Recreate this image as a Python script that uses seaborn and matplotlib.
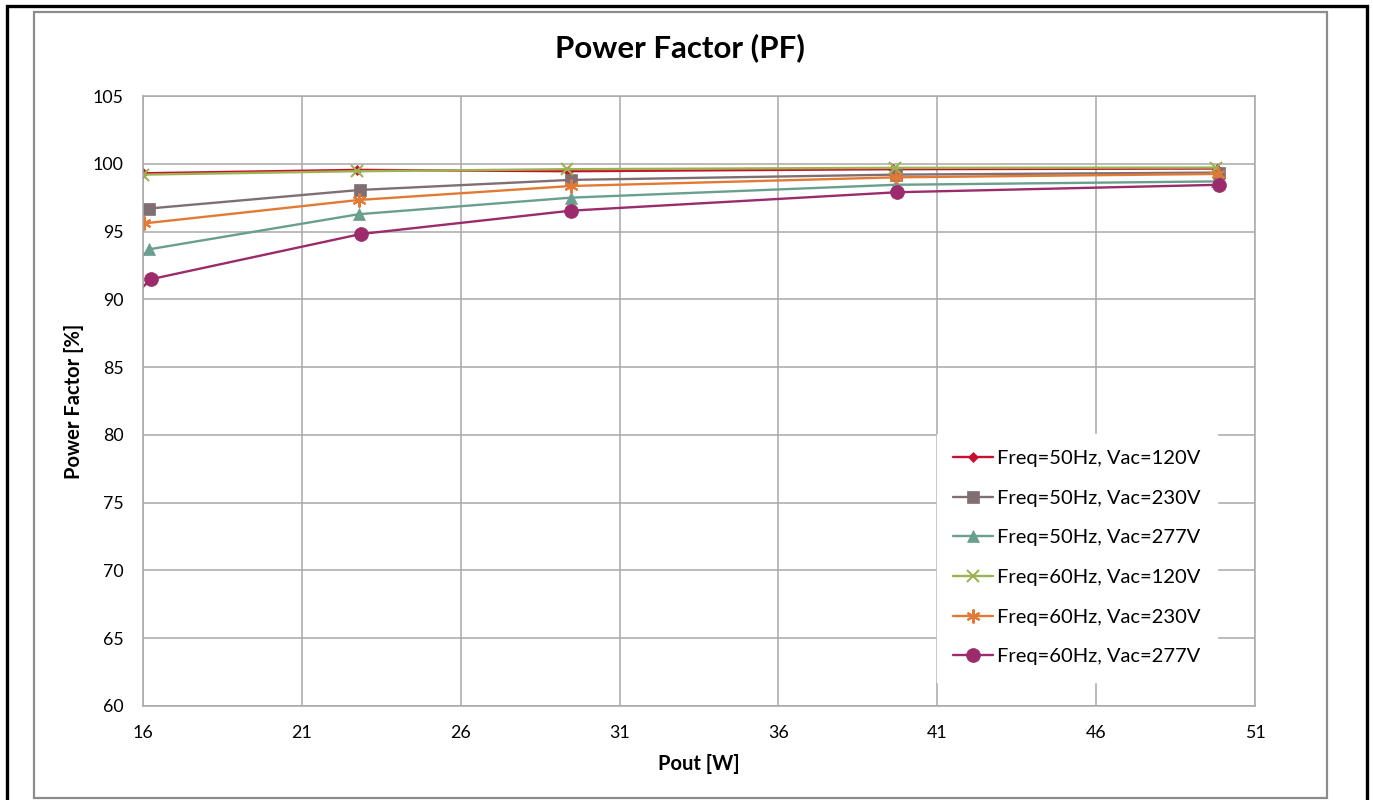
import matplotlib
matplotlib.use("Agg")
import matplotlib.pyplot as plt
import seaborn as sns
import pandas as pd
from matplotlib.patches import Rectangle

# series labels
labels = [
    "Freq=50Hz, Vac=120V",
    "Freq=50Hz, Vac=230V",
    "Freq=50Hz, Vac=277V",
    "Freq=60Hz, Vac=120V",
    "Freq=60Hz, Vac=230V",
    "Freq=60Hz, Vac=277V",
]

# Pout [W] per series
pout_50_120 = [16.0, 22.75, 29.37, 39.62, 49.80]
pout_50_230 = [16.19, 22.83, 29.46, 39.69, 49.88]
pout_50_277 = [13.0, 16.19, 22.79, 29.46, 39.69, 49.80]
pout_60_120 = [16.0, 22.73, 29.36, 39.67, 49.78]
pout_60_230 = [16.03, 22.79, 29.46, 39.69, 49.84]
pout_60_277 = [13.0, 16.24, 22.86, 29.46, 39.73, 49.88]

# Power factor [%]
pf_50_120 = [99.3, 99.55, 99.45, 99.6, 99.65]
pf_50_230 = [96.7, 98.07, 98.81, 99.2, 99.35]
pf_50_277 = [86.2, 93.69, 96.28, 97.5, 98.45, 98.7]
pf_60_120 = [99.2, 99.45, 99.6, 99.7, 99.72]
pf_60_230 = [95.6, 97.33, 98.36, 99.0, 99.25]
pf_60_277 = [83.9, 91.48, 94.82, 96.54, 97.9, 98.45]

xs = [pout_50_120, pout_50_230, pout_50_277, pout_60_120, pout_60_230, pout_60_277]
ys = [pf_50_120, pf_50_230, pf_50_277, pf_60_120, pf_60_230, pf_60_277]

colors = ["#C8102E", "#7F6F72", "#6A9E8E", "#9DB352", "#E27A36", "#9B2B6A"]
markers = ["D", "s", "^", "x", (6, 2, 0), "o"]
msizes = [5, 9, 9, 9, 10, 10]

rows = []
for lab, x, y in zip(labels, xs, ys):
    for a, b in zip(x, y):
        rows.append({"series": lab, "Pout": a, "PF": b})
df = pd.DataFrame(rows)

sns.set_style("whitegrid")
plt.rcParams["font.family"] = ["Lato", "DejaVu Sans"]
plt.rcParams["text.color"] = "black"

fig = plt.figure(figsize=(13.73, 8.0), dpi=100)
ax = fig.add_axes([143 / 1373, 1 - 706 / 800, 1112 / 1373, 610 / 800])

for i, lab in enumerate(labels):
    sub = df[df["series"] == lab]
    sns.lineplot(data=sub, x="Pout", y="PF", ax=ax, color=colors[i],
                 marker=markers[i], markersize=msizes[i], linewidth=1.7,
                 markeredgecolor=colors[i], markeredgewidth=1.5 if i in (3, 4) else 0.5,
                 label=lab, sort=False, estimator=None)

ax.set_xlim(16, 51)
ax.set_ylim(60, 105)
ax.set_xticks(range(16, 52, 5))
ax.set_yticks(range(60, 106, 5))
ax.grid(True, color="#A8A8A8", linewidth=1.1)
for s in ax.spines.values():
    s.set_color("#A8A8A8")
    s.set_linewidth(1.1)
ax.tick_params(length=0, labelsize=12.8, colors="black", pad=14)
ax.set_xlabel("Pout [W]", fontsize=14.5, fontweight="bold", labelpad=9, color="black")
ax.set_ylabel("Power Factor [%]", fontsize=14.5, fontweight="bold", labelpad=6, color="black")

leg = ax.legend(loc="upper left", bbox_to_anchor=(0.714, 0.446), fontsize=14.5,
                frameon=True, fancybox=False, edgecolor="white", framealpha=1,
                borderaxespad=0, handlelength=2.0, handletextpad=0.2,
                labelspacing=1.12, borderpad=0.8)
for t in leg.get_texts():
    t.set_color("black")

fig.text(680 / 1373, 1 - 48 / 800, "Power Factor (PF)", ha="center", va="center",
         fontsize=22.5, fontweight="bold", color="black")

# chart area border and outer frame
fig.patches.append(Rectangle((34 / 1373, 1 - 798 / 800), 1293 / 1373, 786 / 800,
                             transform=fig.transFigure, fill=False,
                             edgecolor="#8C8C8C", linewidth=1.6))
fig.patches.append(Rectangle((6.5 / 1373, -0.02), 1360 / 1373, 1.02 - 5.5 / 800,
                             transform=fig.transFigure, fill=False,
                             edgecolor="black", linewidth=2.4))

fig.savefig("out.png", dpi=100)
